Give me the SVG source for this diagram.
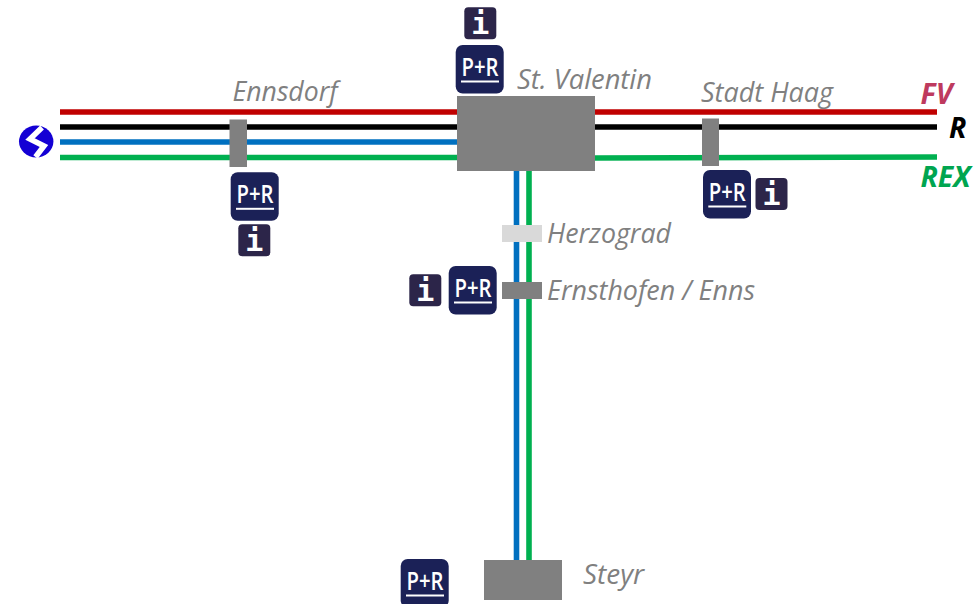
<svg xmlns="http://www.w3.org/2000/svg" xmlns:xlink="http://www.w3.org/1999/xlink" width="974" height="604" viewBox="0 0 974 604">
<style>
.line{fill:none;stroke-width:5.6}
.red{stroke:#c00000}.black{stroke:#000}.blue{stroke:#0070c0}.green{stroke:#00b050}
.st{fill:#808080}
.lbl{font-family:"Open Sans","Liberation Sans",sans-serif;font-style:italic;font-size:27px;fill:#808080}
.tag{font-family:"Open Sans","Liberation Sans",sans-serif;font-style:italic;font-weight:700;font-size:28.500px}
.pr{fill:#1b2157}
.prt{font-family:"Open Sans","Liberation Sans",sans-serif;font-weight:600;font-size:24.500px;fill:#fff;text-anchor:middle}
.inf{fill:#2c2549}
.it{font-family:"DejaVu Sans Mono",monospace;font-weight:700;font-size:30px;fill:#fff;text-anchor:middle}
</style>
<defs>
<g id="pr-icon"><rect class="pr" width="48" height="48.500" rx="7"/><text class="prt" x="24.300" y="31" textLength="37" lengthAdjust="spacingAndGlyphs">P+R</text><rect x="5.300" y="35.500" width="38" height="2" fill="#fff"/></g>
<g id="i-icon"><rect class="inf" width="32" height="32" rx="4"/><text class="it" x="16" y="27">i</text></g>
</defs>
<g id="connectors">
<path class="line red" d="M60 112H937"/>
<path class="line black" d="M60 127H937"/>
<path class="line blue" d="M60 142H457"/>
<path class="line green" d="M60 157.500H457"/>
<path class="line green" d="M595 158L937 157"/>
<path class="line blue" d="M516.500 171V560"/>
<path class="line green" d="M529 171V560"/>
</g>
<g id="logo"><ellipse cx="36.200" cy="141.500" rx="17.200" ry="16" fill="#1400d4"/><path d="M42 127.500L30 139L44 146L35.500 157" fill="none" stroke="#fff" stroke-width="5.500"/></g>
<g id="ennsdorf"><rect class="st" x="229.500" y="119.500" width="17.500" height="47.500"/><text class="lbl" x="232.500" y="101" textLength="105" lengthAdjust="spacingAndGlyphs">Ennsdorf</text><use xlink:href="#pr-icon" href="#pr-icon" x="230.700" y="172.300"/><use xlink:href="#i-icon" href="#i-icon" x="238.300" y="224.300"/></g>
<g id="st-valentin"><rect class="st" x="457" y="96" width="138" height="75"/><text class="lbl" x="517" y="89" textLength="135" lengthAdjust="spacingAndGlyphs">St. Valentin</text><use xlink:href="#pr-icon" href="#pr-icon" x="455.700" y="45"/><use xlink:href="#i-icon" href="#i-icon" x="464.300" y="7.300"/></g>
<g id="stadt-haag"><rect class="st" x="702" y="118.500" width="17" height="47.500"/><text class="lbl" x="701" y="102" textLength="132" lengthAdjust="spacingAndGlyphs">Stadt Haag</text><use xlink:href="#pr-icon" href="#pr-icon" x="703" y="170"/><use xlink:href="#i-icon" href="#i-icon" x="755.500" y="178"/></g>
<g id="herzograd"><rect x="502" y="225" width="40" height="17" fill="#d9d9d9"/><text class="lbl" x="547" y="243" textLength="124" lengthAdjust="spacingAndGlyphs">Herzograd</text></g>
<g id="ernsthofen"><rect class="st" x="502" y="282" width="40" height="17"/><text class="lbl" x="547" y="300" textLength="208" lengthAdjust="spacingAndGlyphs">Ernsthofen / Enns</text><use xlink:href="#pr-icon" href="#pr-icon" x="448.700" y="266"/><use xlink:href="#i-icon" href="#i-icon" x="409.300" y="274.300"/></g>
<g id="steyr"><rect class="st" x="484" y="560" width="78" height="40"/><text class="lbl" x="583" y="584" textLength="61" lengthAdjust="spacingAndGlyphs">Steyr</text><use xlink:href="#pr-icon" href="#pr-icon" x="400.700" y="559"/></g>
<g id="legend"><text class="tag" x="920.500" y="104" fill="#be3a5e">FV</text><text class="tag" x="949" y="138" fill="#000">R</text><text class="tag" x="920.500" y="187" fill="#00a550">REX</text></g>
</svg>
